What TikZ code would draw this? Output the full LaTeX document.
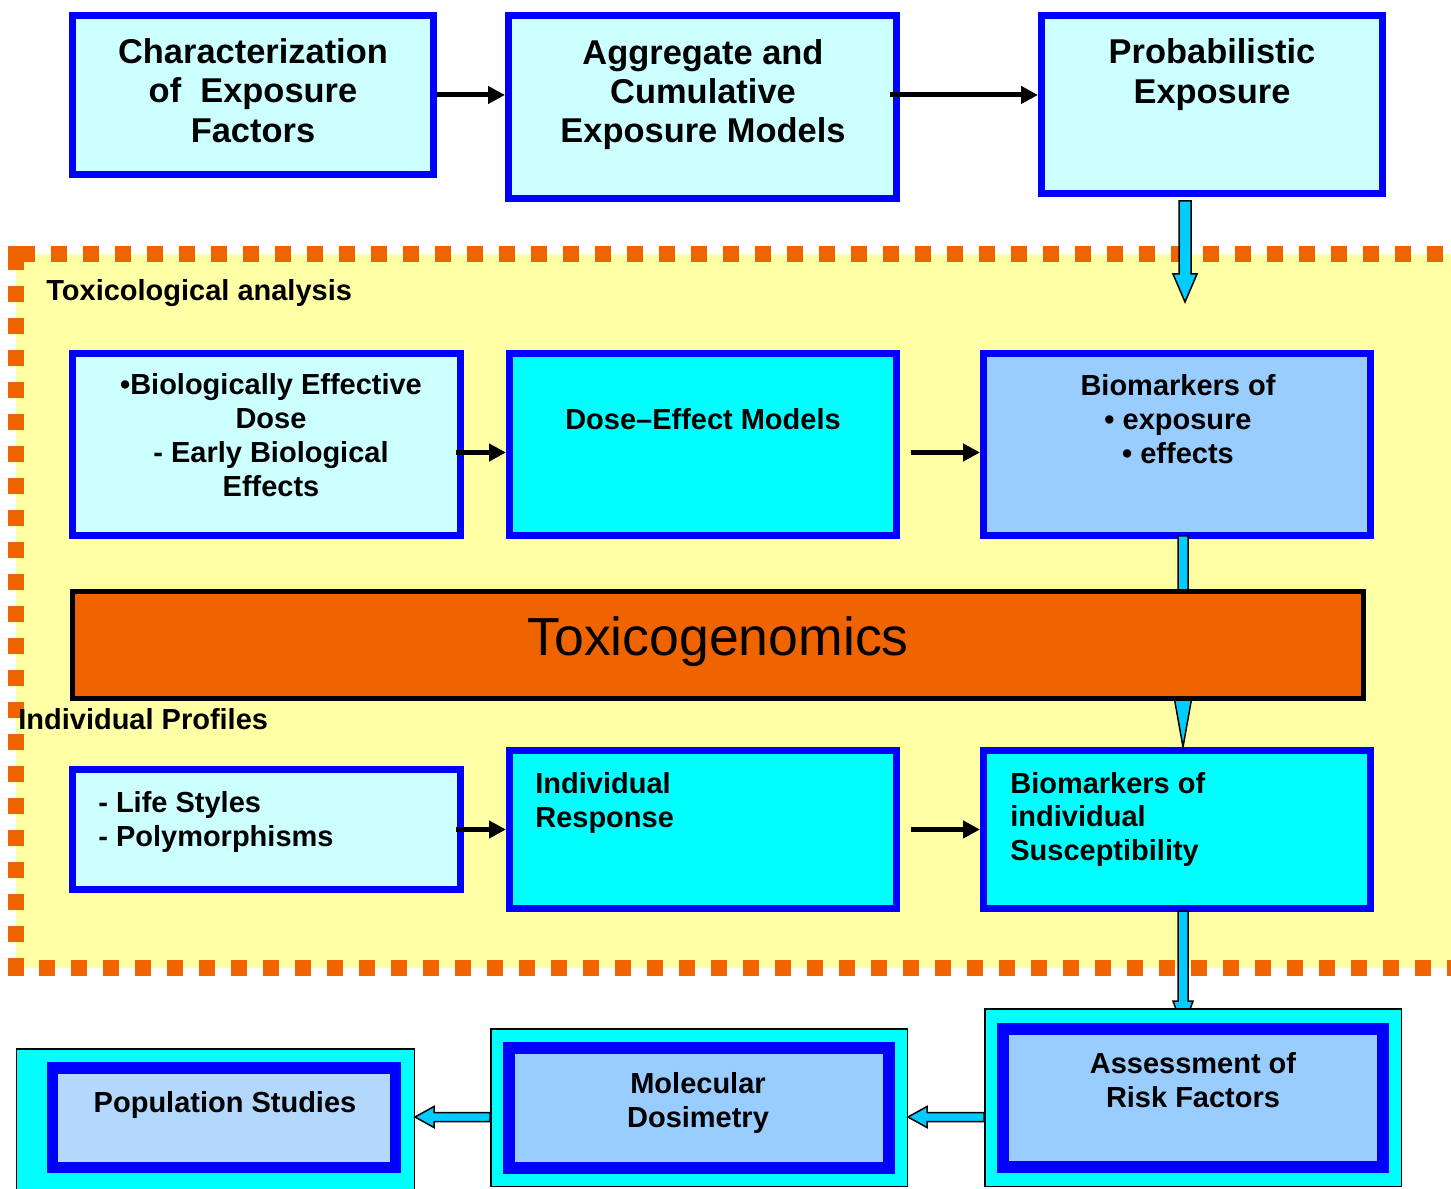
\documentclass[tikz,border=0pt]{standalone}
\usepackage{fontspec}
\setmainfont{Liberation Sans}
\usetikzlibrary{calc, arrows.meta}

\definecolor{boxblue}{RGB}{0,0,255}
\definecolor{palecyan}{RGB}{204,255,255}
\definecolor{brightcyan}{RGB}{0,255,255}
\definecolor{skyblue}{RGB}{153,204,255}
\definecolor{paleblue}{RGB}{180,216,252}
\definecolor{areayellow}{RGB}{255,255,166}
\definecolor{toxorange}{RGB}{240,100,0}
\definecolor{arrowcyan}{RGB}{0,204,255}

\tikzset{
  boxsize/.style 2 args={minimum width=#1*0.02cm, minimum height=#2*0.02cm, inner sep=0pt},
  expbox/.style={draw=boxblue, line width=0.14cm, fill=palecyan},
  modbox/.style={draw=boxblue, line width=0.14cm, fill=brightcyan},
  bmkbox/.style={draw=boxblue, line width=0.14cm, fill=skyblue},
  outerbox/.style={draw=black, line width=0.03cm, fill=brightcyan},
  innerbox/.style={draw=boxblue, line width=0.23cm, fill=skyblue},
  bigtxt/.style={font=\fontsize{19.6}{22.4}\selectfont\bfseries, align=center, inner sep=0pt},
  txt/.style={font=\fontsize{16.5}{19.3}\selectfont\bfseries, align=center, inner sep=0pt},
  arr/.style={line width=0.1cm, -{Triangle[length=0.34cm, width=0.34cm]}},
  blockarr/.style={fill=arrowcyan, draw=black, line width=0.03cm, line join=miter},
  dashline/.style={draw=toxorange, line width=0.32cm, dash pattern=on 0.32cm off 0.32cm}
}

% block arrows: start, tip, half shaft, half head, head length
\newcommand{\vblock}[5]{%
  \filldraw[blockarr] ($(#1)+(-#3,0)$) -- ($(#2)+(-#3,-#5)$) -- ($(#2)+(-#4,-#5)$) -- (#2)
    -- ($(#2)+(#4,-#5)$) -- ($(#2)+(#3,-#5)$) -- ($(#1)+(#3,0)$) -- cycle;}
\newcommand{\hblock}[5]{%
  \filldraw[blockarr] ($(#1)+(0,-#3)$) -- ($(#2)+(#5,-#3)$) -- ($(#2)+(#5,-#4)$) -- (#2)
    -- ($(#2)+(#5,#4)$) -- ($(#2)+(#5,#3)$) -- ($(#1)+(0,#3)$) -- cycle;}

\begin{document}
\begin{tikzpicture}[x=0.02cm, y=-0.02cm]
\useasboundingbox (0,0) rectangle (1451,1189);

% toxicological area
\fill[areayellow] (16,254) rectangle (1459,968);
\draw[dashline] (16,254) -- (16,968);
\draw[dashline, dash phase=0.58cm] (16,254) -- (1459,254);
\draw[dashline, dash phase=0.18cm] (16,968) -- (1459,968);
\fill[toxorange] (8,246) rectangle (24,262);
\fill[toxorange] (8,960) rectangle (24,976);
\node[txt, anchor=west] (toxlabel) at (46,293) {Toxicological analysis};
\node[txt, anchor=west] (proflabel) at (18,719) {Individual Profiles};

% exposure row
\node[expbox, boxsize={361}{159}] (char) at (253,95) {};
\node[bigtxt] (chartext) at (253,90.5) {Characterization\\of\ \ Exposure\\Factors};
\node[expbox, boxsize={388}{183}] (agg) at (702.5,107) {};
\node[bigtxt] (aggtext) at (703,94.5) {Aggregate and\\Cumulative\\Exposure Models};
\node[expbox, boxsize={341}{178}] (prob) at (1212,104.5) {};
\node[bigtxt] (probtext) at (1212,74.5) {Probabilistic\\Exposure};

% dose row
\node[expbox, boxsize={388}{182}] (bed) at (266.5,444.5) {};
\node[txt] (bedtext) at (271,435.5) {•Biologically Effective\\Dose\\- Early Biological\\Effects};
\node[modbox, boxsize={387}{182}] (dose) at (703,444.5) {};
\node[txt] (dosetext) at (703,419) {Dose–Effect Models};
\node[bmkbox, boxsize={387}{182}] (bio) at (1177,444.5) {};
\node[txt] (biotext) at (1178,419) {Biomarkers of\\• exposure\\• effects};

% profile row
\node[expbox, boxsize={388}{120}] (life) at (266.5,829.5) {};
\node[txt, align=left, anchor=west] (lifetext) at (98,822) {- Life Styles\\- Polymorphisms};
\node[modbox, boxsize={387}{158}] (indresp) at (703,829.5) {};
\node[txt, align=left, anchor=west] (resptext) at (535,803) {Individual\\Response};
\node[modbox, boxsize={387}{158}] (biosus) at (1177,829.5) {};
\node[txt, align=left, anchor=west] (susctext) at (1010,819.5) {Biomarkers of\\individual\\Susceptibility};

\draw[arr] (char.east) -- (char.east -| agg.west);
\draw[arr] ($(agg.east |- char.east)+(-10,0)$) -- (char.east -| prob.west);
\draw[arr] ($(bed.east)+(-8,8)$) -- ($(dose.west)+(0,8)$);
\draw[arr] ($(dose.east)+(11,8)$) -- ($(bio.west)+(0,8)$);
\draw[arr] ($(life.east)+(-8,0)$) -- (life.east -| indresp.west);
\draw[arr] ($(indresp.east)+(11,0)$) -- (indresp.east -| biosus.west);

\coordinate (probtip) at (1185,302);
\coordinate (probfoot) at ($(prob.south -| probtip)+(0,4)$);
\vblock{probfoot}{probtip}{6}{12}{28}
\coordinate (biofoot) at ($(bio.south)+(6,-3)$);
\coordinate (susctip) at (biosus.north -| biofoot);
\vblock{biofoot}{susctip}{5}{10}{56}
\coordinate (suscfoot) at ($(biosus.south)+(6,-1)$);
\coordinate (risktip) at ($(suscfoot)+(0,118)$);
\vblock{suscfoot}{risktip}{5}{10}{28}

% toxicogenomics bar
\node[draw=black, line width=0.1cm, fill=toxorange, boxsize={1291}{107}] (toxgen) at (718,645) {};
\node[font=\fontsize{30.5}{36}\selectfont] (toxtext) at (718,642) {Toxicogenomics};

% risk row
\node[outerbox, boxsize={416.5}{177.5}] (assessouter) at (1193,1097.5) {};
\node[innerbox, boxsize={380}{138}] (assess) at (1193,1098) {};
\node[txt] (assesstext) at (1193,1080) {Assessment of\\Risk Factors};
\node[outerbox, boxsize={416.5}{157.5}] (molouter) at (699,1107.5) {};
\node[innerbox, boxsize={380}{120}] (mol) at (699,1108) {};
\node[txt] (moltext) at (698,1103) {Molecular\\Dosimetry};
\node[outerbox, boxsize={397.5}{150.5}] (popouter) at (215.5,1124) {};
\node[innerbox, fill=paleblue, boxsize={342.5}{99.5}] (pop) at (224,1117.5) {};
\node[txt] (poptext) at (225,1105) {Population Studies};

\coordinate (riskside) at ($(assessouter.west)+(0,19.5)$);
\coordinate (moltip) at (molouter.east |- riskside);
\hblock{riskside}{moltip}{4.5}{10.5}{19}
\coordinate (molside) at (molouter.west |- riskside);
\coordinate (poptip) at (popouter.east |- riskside);
\hblock{molside}{poptip}{4.5}{10.5}{19}
\end{tikzpicture}
\end{document}
